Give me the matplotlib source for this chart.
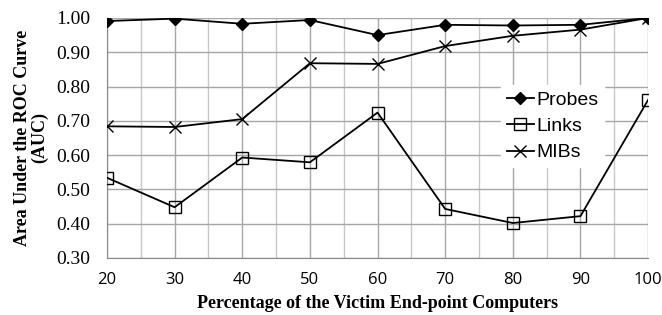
import matplotlib.pyplot as plt
from matplotlib.ticker import MultipleLocator

pct = [20, 30, 40, 50, 60, 70, 80, 90, 100]
probes = [0.991, 0.998, 0.983, 0.994, 0.950, 0.980, 0.978, 0.980, 1.000]
links = [0.534, 0.448, 0.593, 0.579, 0.724, 0.443, 0.402, 0.422, 0.761]
mibs = [0.684, 0.682, 0.705, 0.868, 0.866, 0.918, 0.948, 0.966, 1.000]
yticks = [0.30, 0.40, 0.50, 0.60, 0.70, 0.80, 0.90, 1.00]

fig = plt.figure(figsize=(6.62, 3.15), dpi=100)
ax = fig.add_axes([0.1616, 0.181, 0.8174, 0.762])

ax.plot(pct, probes, color='black', lw=1.3, marker='D', ms=6.5, label='Probes', zorder=3)
ax.plot(pct, links, color='black', lw=1.3, marker='s', ms=9, mfc='none', mew=1.0,
        label='Links', zorder=3)
ax.plot(pct, mibs, color='black', lw=1.3, marker='x', ms=9, mew=1.0, label='MIBs', zorder=3)

ax.set_xlim(20, 100)
ax.set_ylim(0.30, 1.00)
ax.set_xticks(pct)
ax.xaxis.set_minor_locator(MultipleLocator(5))
ax.set_yticks(yticks)
ax.set_yticklabels(['%.2f' % v for v in yticks], family='Liberation Serif', fontsize=14)
ax.set_xticklabels([str(p) for p in pct], family='Open Sans', fontsize=12)
ax.tick_params(which='both', length=0)
ax.tick_params(axis='x', pad=10)
ax.tick_params(axis='y', pad=12)

ax.grid(True, which='major', color='#a6a6a6', lw=1.0)
ax.grid(True, which='minor', axis='x', color='#c8c8c8', lw=1.0)
ax.set_axisbelow(True)
for s in ['top', 'right']:
    ax.spines[s].set_visible(False)
for s in ['left', 'bottom']:
    ax.spines[s].set_color('#888888')

ax.set_xlabel('Percentage of the Victim End-point Computers', family='Liberation Serif',
              fontweight='bold', fontsize=13)
ax.xaxis.set_label_coords(0.5, -0.155)
ax.set_ylabel('Area Under the ROC Curve\n(AUC)', family='Liberation Serif',
              fontweight='bold', fontsize=13, linespacing=1.0)
ax.yaxis.set_label_coords(-0.109, 0.5)

leg = ax.legend(loc='upper left', bbox_to_anchor=(0.71, 0.76), frameon=True,
                prop={'family': 'Liberation Sans', 'size': 14}, handlelength=1.4,
                handletextpad=0.1, labelspacing=0.45, borderpad=0.3, fancybox=False)
leg.get_frame().set_edgecolor('white')
leg.get_frame().set_alpha(1)

fig.savefig('out.png', dpi=100)
